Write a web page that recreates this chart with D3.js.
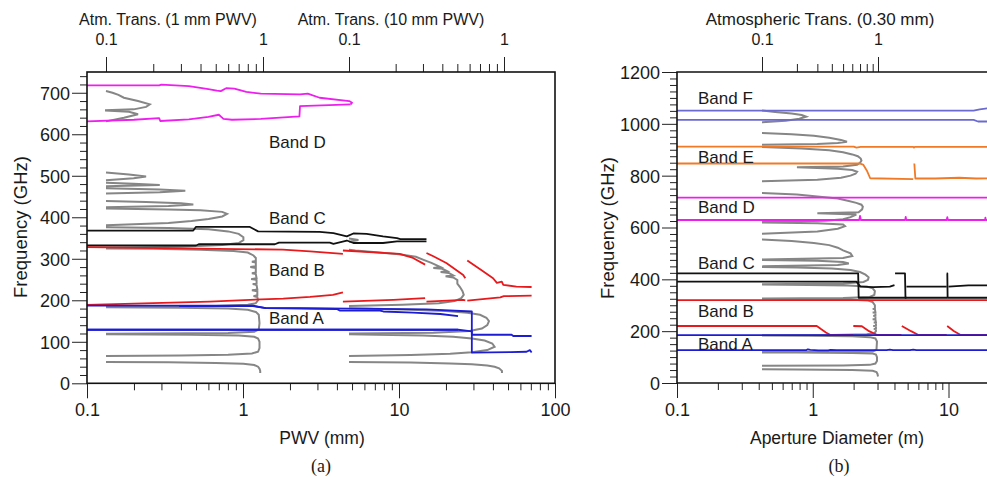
<!DOCTYPE html>
<html><head><meta charset="utf-8">
<script src="https://cdn.jsdelivr.net/npm/d3@7"></script>
<style>
body{margin:0;background:#fff;}
text{font-family:"Liberation Sans",Arial,Helvetica,sans-serif;fill:#1a1a1a;}
</style></head><body>
<svg id="chart" width="987" height="477"></svg>
<script>
// ---------- tick labels ----------
const pwvMajor = [0.1, 1, 10, 100];
const pwvLabels = ["0.1", "1", "10", "100"];
const apMajor = [0.1, 1, 10];
const apLabels = ["0.1", "1", "10"];
const transMajor = [0.1, 1];
const transLabels = ["0.1", "1"];
const freqLeftMajor = [0, 100, 200, 300, 400, 500, 600, 700];
const freqRightMajor = [0, 200, 400, 600, 800, 1000, 1200];

// ---------- atmospheric transmission [GHz, transmission]; 0 = opaque ----------
const trans1mm = [
  [25,0.96],[30,0.96],[35,0.95],[40,0.93],[44,0.88],[47,0.75],[49,0.5],[50.5,0.25],[51.5,0.1],[52,0],
  [65,0],[65.8,0.1],[67,0.3],[69,0.6],[72,0.85],[76,0.93],[85,0.95],[100,0.95],[108,0.93],[112,0.88],[115,0.7],[117,0.35],[118,0.1],[118.5,0],
  [119,0],[119.5,0.1],[121,0.6],[124,0.88],[130,0.94],[145,0.95],[165,0.94],[172,0.9],[177,0.8],[180,0.6],[182,0.3],[183,0.1],[183.3,0],
  [183.6,0],[184,0.1],[186,0.5],[189,0.8],[193,0.9],[200,0.93],[208,0.92],[210,0.87],[212,0.92],[222,0.92],[224,0.85],[226,0.92],
  [237,0.91],[239,0.86],[240,0.91],[249,0.91],[251,0.84],[253,0.91],[263,0.9],[265,0.85],[267,0.9],[278,0.9],[280,0.83],[282,0.9],
  [291,0.9],[293,0.85],[295,0.9],[302,0.9],[308,0.87],[315,0.8],[319,0.65],[322,0.4],[324,0.2],[325,0.1],[325.3,0],
  [325.6,0],[326,0.1],[329,0.3],[333,0.55],[338,0.7],[345,0.75],[352,0.75],[360,0.7],[366,0.6],[371,0.45],[374,0.25],[376,0.1],[376.5,0],
  [380,0],[381,0.1],[386,0.25],[391,0.35],[396,0.45],[402,0.55],[408,0.59],[413,0.55],[417,0.4],[419,0.25],[421,0.1],[421.5,0],
  [423,0],[424,0.1],[427,0.25],[431,0.36],[434,0.3],[437,0.18],[439,0.1],[439.5,0],
  [456,0],[457,0.1],[460,0.22],[464,0.32],[467,0.22],[470,0.1],[470.5,0],
  [474,0],[475,0.1],[478,0.22],[481,0.15],[483,0.1],[483.5,0],
  [488,0],[489,0.1],[494,0.15],[498,0.18],[503,0.14],[508,0.1],[508.5,0],
  [630,0],[631,0.1],[640,0.13],[648,0.16],[654,0.14],[657,0.1],[658,0.1],[660,0.15],[666,0.18],[672,0.19],[680,0.16],[688,0.13],[695,0.12],[700,0.11],[704,0.1],[704.5,0]
];
const trans10mm = [
  [25,0.97],[30,0.97],[36,0.93],[40,0.87],[43,0.78],[46,0.62],[48,0.45],[50,0.25],[51.5,0.1],[52,0],
  [65,0],[66,0.1],[68,0.25],[71,0.45],[75,0.62],[80,0.78],[88,0.87],[96,0.84],[103,0.75],[108,0.62],[112,0.47],[115,0.3],[117,0.15],[118,0.1],[118.5,0],
  [119,0],[120,0.1],[122,0.35],[126,0.6],[132,0.72],[140,0.78],[150,0.8],[158,0.77],[165,0.7],[170,0.58],[174,0.42],[177,0.25],[180,0.13],[181,0.1],[181.5,0],
  [185,0],[186,0.1],[189,0.22],[193,0.38],[198,0.48],[205,0.53],[213,0.55],[222,0.54],[232,0.52],[240,0.5],[249,0.5],
  [255,0.47],[258,0.42],[260,0.47],[266,0.44],[268,0.39],[270,0.43],[276,0.4],[278,0.35],[280,0.39],[290,0.34],[298,0.3],
  [305,0.27],[311,0.21],[316,0.15],[320,0.11],[322,0.1],[322.5,0],
  [340,0],[341,0.1],[345,0.115],[349,0.1],[349.5,0]
];
const trans030mm = [
  [25,1.0],[35,0.99],[42,0.97],[47,0.9],[50,0.6],[52,0.2],[53,0.1],[53.5,0],
  [66,0],[67,0.1],[68,0.5],[70,0.85],[75,0.95],[85,0.98],[100,0.98],[110,0.96],[114,0.9],[116,0.6],[117.5,0.2],[118,0.1],[118.5,0],
  [119,0],[119.5,0.1],[120,0.5],[122,0.9],[128,0.97],[160,0.98],[172,0.95],[177,0.85],[180,0.6],[182,0.25],[183,0.1],[183.3,0],
  [183.6,0],[184,0.1],[185,0.4],[188,0.8],[192,0.93],[200,0.96],[207,0.96],[208,0.92],[209,0.96],[219,0.96],[220,0.91],[221,0.96],
  [232,0.96],[233,0.92],[234,0.96],[245,0.95],[246,0.9],[247,0.95],[258,0.95],[259,0.91],[260,0.95],[271,0.95],[272,0.9],[273,0.95],
  [285,0.94],[286,0.9],[287,0.94],[300,0.94],[312,0.9],[318,0.82],[321,0.6],[323.5,0.25],[325,0.1],[325.3,0],
  [325.7,0],[326,0.1],[328,0.5],[332,0.85],[340,0.93],[355,0.94],[365,0.9],[372,0.8],[376,0.55],[378.5,0.25],[380,0.1],[380.3,0],
  [380.6,0],[381,0.1],[384,0.5],[390,0.75],[398,0.82],[408,0.83],[418,0.78],[428,0.7],[436,0.58],[442,0.4],[446,0.2],[448,0.1],[448.5,0],
  [449,0],[450,0.1],[455,0.45],[461,0.56],[467,0.5],[472,0.3],[475,0.1],[475.5,0],
  [476,0],[477,0.1],[482,0.5],[490,0.6],[500,0.58],[512,0.5],[522,0.45],[532,0.38],[540,0.28],[548,0.18],[554,0.1],[554.5,0],
  [575,0],[576,0.1],[585,0.3],[595,0.45],[605,0.52],[612,0.5],[616,0.3],[619,0.1],[619.5,0],
  [620,0],[621,0.1],[626,0.35],[632,0.5],[640,0.58],[650,0.65],[655,0.3],[659,0.68],[670,0.73],[680,0.74],[688,0.72],[695,0.65],
  [703,0.55],[712,0.45],[720,0.3],[727,0.2],[733,0.1],[733.5,0],
  [777,0],[778,0.1],[784,0.3],[792,0.48],[800,0.58],[808,0.64],[815,0.66],[822,0.6],[827,0.45],[832,0.2],[835,0.5],[842,0.66],
  [850,0.7],[858,0.72],[866,0.71],[875,0.67],[882,0.6],[890,0.5],[898,0.38],[905,0.22],[911,0.1],[911.5,0],
  [918,0],[919,0.1],[922,0.3],[926,0.45],[931,0.54],[938,0.48],[946,0.38],[954,0.28],[960,0.18],[965,0.1],[965.5,0],
  [1005,0],[1006,0.1],[1012,0.16],[1020,0.21],[1028,0.24],[1034,0.22],[1040,0.18],[1046,0.13],[1051,0.1],[1051.5,0]
];

// ---------- band edges vs PWV [mm, GHz] (each entry is one polyline) ----------
const bandA_pwv = [
  [[0.1,187],[1.16,187],[1.4,181],[3.99,179],[4.19,175],[7.55,175],[7.93,173],[12.3,170.5],[18.4,167],[23.9,162]],
  [[0.1,129],[23.9,129]],
  [[0.39,186],[1.16,186],[1.4,181],[2.3,181],[15,178],[29.3,173],[29.3,74],[52,75],[65.7,76],[69,80],[70.8,74]],
  [[0.1,129],[23.9,129],[29.3,125],[29.3,117],[52.7,117],[54,114],[70.8,114]]
];
const bandB_pwv = [
  [[0.1,328],[0.91,323.5],[1.8,322],[2.69,318],[4.37,312]],
  [[0.1,189],[0.61,197],[1.11,201],[1.81,204],[2.69,208],[3.77,213],[4.37,219]],
  [[4.37,320],[10.1,312],[12.3,302],[14.7,286]],
  [[4.37,197],[9.2,201],[14.7,205]],
  [[15,314],[16.6,306],[20.1,290],[25.8,261],[26.6,253]],
  [[15,197],[25.8,201],[26.6,200]],
  [[27.4,296],[33.3,274],[40.1,253],[42.4,242],[45.6,245],[46.6,237],[56.6,233],[70.8,232]],
  [[27.4,199],[44.6,207],[47,210],[70.8,211]]
];
const bandC_pwv = [
  [[0.1,368],[0.48,368],[0.5,377],[1.1,377],[1.25,366],[3.1,365],[3.8,362],[4.63,354],[5.1,361],[6.2,360],[7.9,354],[9.7,350],[10.2,347.5],[15,347.5]],
  [[0.1,332],[0.5,332],[0.52,335],[1.6,335],[1.7,339],[3.6,339],[3.8,336],[4.63,344],[5.1,338],[7.9,338],[9.7,342],[15,342]]
];
const bandD_pwv = [
  [[0.1,718],[0.29,718],[0.3,719.5],[0.45,716],[0.6,709],[0.68,705],[0.72,704],[0.78,711],[0.88,710],[1.05,702],[1.3,698],[2.32,696],[2.6,698],[3.1,688],[4.8,680],[5.0,676],[4.9,672]],
  [[0.1,631],[0.2,635],[0.29,639],[0.295,632],[0.45,636],[0.6,642],[0.7,647],[0.75,637],[0.85,635],[1.3,637],[2.3,643],[2.32,668],[4.9,672]]
];

// ---------- band edges vs aperture diameter [m, GHz] ----------
const bandA_ap = [
  [[0.1,185],[25,185]],
  [[0.1,127],[0.9,127],[0.92,130],[0.96,128],[1.1,126],[1.3,126],[1.35,128],[1.5,127],[3.5,127],[3.7,129],[3.9,127],[5.2,127],[5.5,129],[5.8,127],[25,127]]
];
const bandB_ap = [
  [[0.1,320],[25,320]],
  [[0.1,220],[1.07,220],[1.15,208],[1.25,195],[1.34,186],[1.99,186]],
  [[1.99,220],[2.3,219],[2.6,200],[2.96,186],[4.5,186]],
  [[4.53,220],[5.3,200],[5.96,186],[9.7,186]],
  [[9.78,220],[11,200],[12.2,186],[25,186]]
];
const bandC_ap = [
  [[0.1,423],[2.16,423],[2.18,329],[4.9,329]],
  [[0.1,391],[2.1,391],[2.24,372],[2.8,370],[3.7,372],[4.0,378]],
  [[4.04,423],[4.78,423],[4.82,329],[9.75,329]],
  [[4.9,372],[9.7,372]],
  [[9.7,423],[9.8,423],[9.85,329],[25,329]],
  [[10,372],[14,377],[25,377]]
];
const bandD_ap = [
  [[0.1,715],[25,715]],
  [[0.1,629],[2.2,629],[2.23,645],[2.26,629],[4.8,629],[4.84,641],[4.88,629],[9.7,629],[9.8,640],[9.9,629],[18.6,629],[18.7,638],[18.8,629],[25,629]]
];
const bandE_ap = [
  [[0.1,912],[2.0,912],[2.1,908],[2.25,911],[5.5,911],[5.57,908],[5.65,911],[25,911]],
  [[0.1,847],[2.2,847],[2.35,843],[2.5,820],[2.65,790],[5.5,787]],
  [[5.6,847],[5.7,789],[8,789],[12,792],[16,789],[25,790]]
];
const bandF_ap = [
  [[0.1,1051],[15.3,1051],[17,1056],[19.5,1060],[25,1060]],
  [[0.1,1015],[15.3,1015],[16.5,1009],[25,1009]]
];

// ---------- layout ----------
const W = 987, H = 477;
const L = {x0: 87, x1: 555, y0: 72, y1: 383.3};
const R = {x0: 677, y0: 72, y1: 383};
const colors = {A: "#1c1cd4", B: "#e8191c", C: "#111111", D: "#ee1eee", E: "#f07a26", F: "#6a6ad0", atm: "#868686"};
const FS = {tick: 18, topTick: 16, title: 16, band: 17, yTitle: 18.5, xTitle: 17.5, panel: 18};

const svg = d3.select("#chart");
svg.append("rect").attr("width", W).attr("height", H).attr("fill", "#fff");

// scales
const xL = d3.scaleLog().domain([0.1, 100]).range([L.x0, L.x1]);
const yL = d3.scaleLinear().domain([0, 750]).range([L.y1, L.y0]);
const t1 = d3.scaleLog().domain([0.1, 1]).range([106, 263]);
const t10 = d3.scaleLog().domain([0.1, 1]).range([349, 504]);
const xR = d3.scaleLog().domain([0.1, 10]).range([677, 948.5]);
const yR = d3.scaleLinear().domain([0, 1200]).range([R.y1, R.y0]);
const tR = d3.scaleLog().domain([0.1, 1]).range([762, 878]);

const isDecade = d => Math.abs(Math.log10(d) - Math.round(Math.log10(d))) < 1e-6;
function labelFor(majors, labels) {
  return d => {
    const i = majors.findIndex(m => Math.abs(m - d) / m < 1e-6);
    return i >= 0 ? labels[i] : "";
  };
}

const defs = svg.append("defs");
defs.append("clipPath").attr("id", "clipL").append("rect")
  .attr("x", L.x0).attr("y", L.y0).attr("width", L.x1 - L.x0).attr("height", L.y1 - L.y0);
defs.append("clipPath").attr("id", "clipR").append("rect")
  .attr("x", R.x0).attr("y", R.y0).attr("width", W - R.x0).attr("height", R.y1 - R.y0);

function styleAxis(g, fs) {
  g.select(".domain").remove();
  g.selectAll(".tick line").attr("stroke", "#222").attr("stroke-width", 1);
  g.selectAll(".tick text").attr("font-size", fs).attr("fill", "#1a1a1a")
    .attr("font-family", "'Liberation Sans',Arial,sans-serif");
  g.selectAll(".tick text").filter(function () { return this.textContent === ""; }).remove();
}

// bottom log axis
function bottomAxis(scale, y, majors, labels, vals) {
  const g = svg.append("g").attr("transform", `translate(0,${y})`);
  g.call(d3.axisBottom(scale).tickValues(vals).tickSize(7).tickFormat(labelFor(majors, labels)));
  styleAxis(g, FS.tick);
  g.selectAll(".tick").filter(d => isDecade(d)).select("line").attr("y2", 15);
  g.selectAll(".tick text").attr("y", 33).attr("dy", 0);
}
// top transmission axis
function topAxis(scale, majors, labels) {
  const g = svg.append("g").attr("transform", `translate(0,${L.y0})`);
  g.call(d3.axisTop(scale).tickValues(scale.ticks()).tickSize(8).tickFormat(labelFor(majors, labels)));
  styleAxis(g, FS.topTick);
  g.selectAll(".tick").filter(d => isDecade(d)).select("line").attr("y2", -15);
  g.selectAll(".tick text").attr("y", -27).attr("dy", 0);
}
// left frequency axis
function leftAxis(scale, x, majors, step) {
  const [lo, hi] = scale.domain();
  const g = svg.append("g").attr("transform", `translate(${x},0)`);
  g.call(d3.axisLeft(scale).tickValues(d3.range(lo, hi + 0.01, step)).tickSize(7)
    .tickFormat(d => majors.includes(d) ? String(d) : ""));
  styleAxis(g, FS.tick);
  g.selectAll(".tick").filter(d => majors.includes(d)).select("line").attr("x2", -15);
  g.selectAll(".tick text").attr("x", -17).attr("dy", "0.36em");
}

function addText(x, y, size, str, anchor) {
  return svg.append("text").attr("x", x).attr("y", y).attr("font-size", size)
    .attr("text-anchor", anchor || "start").text(str);
}

// ---------- panel (a) ----------
bottomAxis(xL, L.y1, pwvMajor, pwvLabels, xL.ticks());
leftAxis(yL, L.x0, freqLeftMajor, 20);
topAxis(t1, transMajor, transLabels);
topAxis(t10, transMajor, transLabels);

const pa = svg.append("g").attr("clip-path", "url(#clipL)");
const atmLine = (ts, ys) => d3.line().defined(d => d[1] >= 0.1).x(d => ts(d[1])).y(d => ys(d[0]));
pa.append("path").datum(trans1mm).attr("d", atmLine(t1, yL))
  .attr("fill", "none").attr("stroke", colors.atm).attr("stroke-width", 2);
pa.append("path").datum(trans10mm).attr("d", atmLine(t10, yL))
  .attr("fill", "none").attr("stroke", colors.atm).attr("stroke-width", 2);

const edgeL = d3.line().x(d => xL(d[0])).y(d => yL(d[1]));
[[bandD_pwv, colors.D], [bandC_pwv, colors.C], [bandB_pwv, colors.B], [bandA_pwv, colors.A]].forEach(([segs, c]) => {
  pa.selectAll(null).data(segs).enter().append("path").attr("d", edgeL)
    .attr("fill", "none").attr("stroke", c).attr("stroke-width", 1.8).attr("stroke-linejoin", "round");
});

svg.append("rect").attr("x", L.x0).attr("y", L.y0).attr("width", L.x1 - L.x0).attr("height", L.y1 - L.y0)
  .attr("fill", "none").attr("stroke", "#111").attr("stroke-width", 1.6);

[["Band D", 269, 148], ["Band C", 269, 224], ["Band B", 269, 276], ["Band A", 269, 324]]
  .forEach(d => addText(d[1], d[2], FS.band, d[0]));

addText(168, 25, FS.title, "Atm. Trans. (1 mm PWV)", "middle");
addText(391, 25, FS.title, "Atm. Trans. (10 mm PWV)", "middle");
svg.append("text").attr("transform", "translate(27,227) rotate(-90)").attr("text-anchor", "middle")
  .attr("font-size", FS.yTitle).text("Frequency (GHz)");
addText(322, 444, FS.xTitle, "PWV (mm)", "middle");
addText(321, 472, FS.panel, "(a)", "middle").style("font-family", "'Liberation Serif','Times New Roman',serif");

// ---------- panel (b) ----------
bottomAxis(xR, R.y1, apMajor, apLabels, d3.scaleLog().domain([0.1, 20]).ticks());
leftAxis(yR, R.x0, freqRightMajor, 25);
topAxis(tR, transMajor, transLabels);

const pb = svg.append("g").attr("clip-path", "url(#clipR)");
pb.append("path").datum(trans030mm).attr("d", atmLine(tR, yR))
  .attr("fill", "none").attr("stroke", colors.atm).attr("stroke-width", 2);

const edgeR = d3.line().x(d => xR(d[0])).y(d => yR(d[1]));
[[bandF_ap, colors.F], [bandE_ap, colors.E], [bandD_ap, colors.D], [bandC_ap, colors.C], [bandB_ap, colors.B], [bandA_ap, colors.A]].forEach(([segs, c]) => {
  pb.selectAll(null).data(segs).enter().append("path").attr("d", edgeR)
    .attr("fill", "none").attr("stroke", c).attr("stroke-width", 1.8).attr("stroke-linejoin", "round");
});

svg.append("path")
  .attr("d", `M${W + 5},${R.y0}H${R.x0}V${R.y1}H${W + 5}`)
  .attr("fill", "none").attr("stroke", "#111").attr("stroke-width", 1.6);

[["Band F", 698, 104], ["Band E", 698, 163], ["Band D", 698, 213], ["Band C", 698, 269], ["Band B", 698, 317], ["Band A", 698, 350]]
  .forEach(d => addText(d[1], d[2], FS.band, d[0]));

addText(820, 25, 17, "Atmospheric Trans. (0.30 mm)", "middle");
svg.append("text").attr("transform", "translate(614,228) rotate(-90)").attr("text-anchor", "middle")
  .attr("font-size", FS.yTitle).text("Frequency (GHz)");
addText(837, 444, FS.xTitle, "Aperture Diameter (m)", "middle");
addText(839, 472, FS.panel, "(b)", "middle").style("font-family", "'Liberation Serif','Times New Roman',serif");
</script>
</body></html>
